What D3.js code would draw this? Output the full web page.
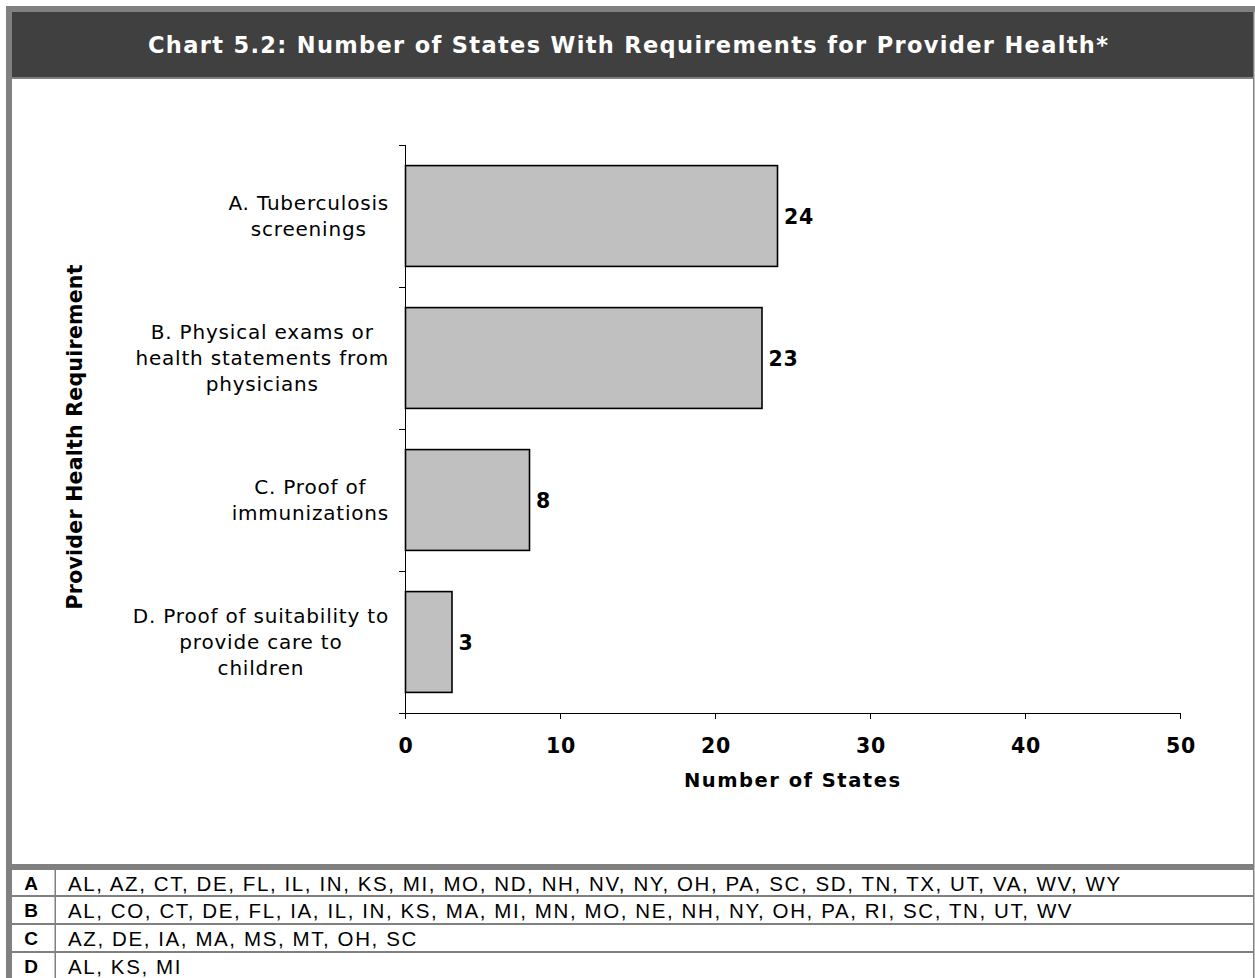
<!DOCTYPE html>
<html>
<head>
<meta charset="utf-8">
<script src="https://cdn.jsdelivr.net/npm/d3@7"></script>
<style>
  body { margin: 0; background: #fff; }
  svg { display: block; }
</style>
</head>
<body>
<svg id="chart" width="1255" height="978"></svg>
<script>
const titleText = "Chart 5.2: Number of States With Requirements for Provider Health*";
const categories = [
  ["A. Tuberculosis", "screenings"],
  ["B. Physical exams or", "health statements from", "physicians"],
  ["C. Proof of", "immunizations"],
  ["D. Proof of suitability to", "provide care to", "children"]
];
const values = [24, 23, 8, 3];
const xTicks = [0, 10, 20, 30, 40, 50];
const rowKeys = ["A", "B", "C", "D"];
const stateLists = [
  "AL, AZ, CT, DE, FL, IL, IN, KS, MI, MO, ND, NH, NV, NY, OH, PA, SC, SD, TN, TX, UT, VA, WV, WY",
  "AL, CO, CT, DE, FL, IA, IL, IN, KS, MA, MI, MN, MO, NE, NH, NY, OH, PA, RI, SC, TN, UT, WV",
  "AZ, DE, IA, MA, MS, MT, OH, SC",
  "AL, KS, MI"
];
const xTitle = "Number of States";
const yTitle = "Provider Health Requirement";

const svg = d3.select("#chart");
const gray = "#808080";
const VFONT = "'DejaVu Sans', Verdana, sans-serif";
const AFONT = "'Liberation Sans', Arial, sans-serif";

// frame
svg.append("rect").attr("x", 6).attr("y", 6).attr("width", 1249).attr("height", 6).attr("fill", gray);
svg.append("rect").attr("x", 6).attr("y", 6).attr("width", 6).attr("height", 972).attr("fill", gray);
svg.append("rect").attr("x", 1253).attr("y", 6).attr("width", 1.5).attr("height", 972).attr("fill", gray);
svg.append("rect").attr("x", 12).attr("y", 12).attr("width", 1241).attr("height", 65).attr("fill", "#404040");
svg.append("rect").attr("x", 12).attr("y", 77).attr("width", 1242).attr("height", 2).attr("fill", gray);

svg.append("text")
  .attr("x", 628).attr("y", 45)
  .attr("text-anchor", "middle").attr("dominant-baseline", "central")
  .attr("fill", "#fff").attr("font-family", VFONT).attr("font-weight", "bold")
  .attr("font-size", 22.5)
  .attr("textLength", 960).attr("lengthAdjust", "spacing")
  .text(titleText);

// chart
const x = d3.scaleLinear().domain([0, 50]).range([405, 1180]);
const y = d3.scaleBand().domain(d3.range(categories.length)).range([145, 713]).paddingInner(0.29).paddingOuter(0.145);

const xAxis = svg.append("g").attr("transform", "translate(0,713)")
  .call(d3.axisBottom(x).tickValues(xTicks).tickSize(6).tickSizeOuter(0).tickFormat(d3.format("d")));
xAxis.select(".domain").attr("stroke", "#000");
xAxis.selectAll(".tick line").attr("stroke", "#000");
xAxis.selectAll(".tick text")
  .attr("font-family", VFONT).attr("font-weight", "bold").attr("font-size", 20.5)
  .attr("letter-spacing", 0.8)
  .attr("fill", "#000").attr("dy", null).attr("y", 0)
  .attr("transform", "translate(0.5,33)").attr("dominant-baseline", "central");

// y axis line and boundary ticks
const yBounds = d3.range(categories.length + 1).map(i => 145 + i * (568 / categories.length));
svg.append("line").attr("x1", 405.5).attr("x2", 405.5).attr("y1", 145).attr("y2", 719).attr("stroke", "#000");
svg.selectAll(".ytick").data(yBounds).enter().append("line")
  .attr("x1", 399).attr("x2", 405).attr("y1", d => Math.round(d) + 0.5).attr("y2", d => Math.round(d) + 0.5)
  .attr("stroke", "#000");

// bars
svg.selectAll(".bar").data(values).enter().append("rect")
  .attr("x", x(0) + 0.5)
  .attr("y", (d, i) => y(i))
  .attr("width", d => x(d) - x(0))
  .attr("height", y.bandwidth())
  .attr("fill", "#c0c0c0").attr("stroke", "#000").attr("stroke-width", 1.6);

svg.selectAll(".val").data(values).enter().append("text")
  .attr("x", d => x(d) + 7)
  .attr("y", (d, i) => y(i) + y.bandwidth() / 2 + 1)
  .attr("dominant-baseline", "central")
  .attr("font-family", VFONT).attr("font-weight", "bold").attr("font-size", 20.5)
  .attr("letter-spacing", 0.8)
  .text(d => d);

// category labels
const lineH = 26;
categories.forEach((lines, i) => {
  const g = svg.append("g");
  const cy = y(i) + y.bandwidth() / 2;
  const texts = lines.map((t, j) => g.append("text")
    .attr("y", cy + (j - (lines.length - 1) / 2) * lineH)
    .attr("dominant-baseline", "central").attr("text-anchor", "middle")
    .attr("font-family", VFONT).attr("font-size", 20).attr("letter-spacing", 0.8)
    .attr("fill", "#000")
    .text(t));
  const maxW = d3.max(texts, t => t.node().getBBox().width);
  const cx = 389 - maxW / 2;
  texts.forEach(t => t.attr("x", cx));
});

// axis titles
svg.append("text").attr("x", 792).attr("y", 780)
  .attr("text-anchor", "middle").attr("dominant-baseline", "central")
  .attr("font-family", VFONT).attr("font-weight", "bold").attr("font-size", 19.5)
  .attr("textLength", 216).attr("lengthAdjust", "spacing")
  .text(xTitle);
svg.append("text").attr("transform", "translate(75,437) rotate(-90)")
  .attr("text-anchor", "middle").attr("dominant-baseline", "central")
  .attr("font-family", VFONT).attr("font-weight", "bold").attr("font-size", 20.5)
  .attr("textLength", 345).attr("lengthAdjust", "spacing")
  .text(yTitle);

// table
svg.append("rect").attr("x", 12).attr("y", 864).attr("width", 1242).attr("height", 6).attr("fill", gray);
const rowTop = [870, 897, 925, 953];
const rowBot = [895, 923, 951, 978];
[895, 923, 951].forEach(yy => svg.append("rect").attr("x", 12).attr("y", yy).attr("width", 1242).attr("height", 2).attr("fill", gray));
svg.append("rect").attr("x", 54.5).attr("y", 870).attr("width", 1.5).attr("height", 108).attr("fill", gray);

rowKeys.forEach((k, i) => {
  const cy = (rowTop[i] + rowBot[i]) / 2 + 0.5;
  svg.append("text").attr("x", 31).attr("y", cy)
    .attr("text-anchor", "middle").attr("dominant-baseline", "central")
    .attr("font-family", AFONT).attr("font-weight", "bold").attr("font-size", 19)
    .text(k);
  svg.append("text").attr("x", 68).attr("y", cy)
    .attr("dominant-baseline", "central")
    .attr("font-family", AFONT).attr("font-size", 20.5).attr("letter-spacing", 1.6)
    .text(stateLists[i]);
});
</script>
</body>
</html>
